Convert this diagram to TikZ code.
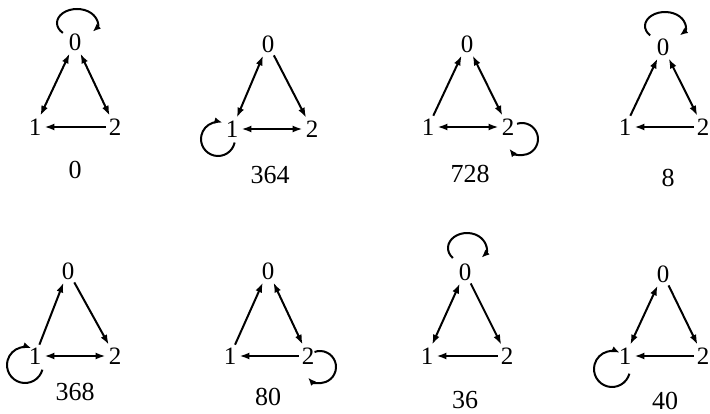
\documentclass[tikz,border=0pt]{standalone}
\usepackage{fontspec}
\setmainfont{Liberation Serif}
\usetikzlibrary{arrows.meta}
\begin{document}
\begin{tikzpicture}[x=1pt,y=1pt,
  vtx/.style={inner sep=1pt,font=\fontsize{25}{28}\selectfont},
  lbl/.style={inner sep=0pt,font=\fontsize{26}{29}\selectfont},
  ed/.style={line width=2pt,shorten >=2pt,shorten <=2pt},
  one/.style={ed,-{Latex[length=10pt,width=7pt]}},
  two/.style={ed,{Latex[length=10pt,width=7pt]}-{Latex[length=10pt,width=7pt]}},
  lp/.style={line width=2pt,-{Latex[length=8pt,width=6.5pt]}}]
\useasboundingbox (0,0) rectangle (710,-414);
% ---- graph 1 (0)
\node[vtx] (a0) at (75,-42) {0};
\node[vtx] (a1) at (35,-127) {1};
\node[vtx] (a2) at (115,-127) {2};
\node[lbl] (la) at (75,-170) {0};
\draw[two] (a0) -- (a1);
\draw[two] (a0) -- (a2);
\draw[one] (a2) -- (a1);
\draw[lp] (a0.center) ++(2,19) ++(225:20 and 14) arc[start angle=225,end angle=-38,x radius=20,y radius=14];
% ---- graph 2 (364)
\node[vtx] (b0) at (268,-44) {0};
\node[vtx] (b1) at (232,-129) {1};
\node[vtx] (b2) at (312,-129) {2};
\node[lbl] (lb) at (270,-175) {364};
\draw[two] (b0) -- (b1);
\draw[one] (b0) -- (b2);
\draw[two] (b1) -- (b2);
\draw[lp] (b1.center) ++(-14,-10) ++(-12:17) arc[start angle=-12,end angle=-285,radius=17];
% ---- graph 3 (728)
\node[vtx] (c0) at (467,-44) {0};
\node[vtx] (c1) at (428,-127) {1};
\node[vtx] (c2) at (508,-127) {2};
\node[lbl] (lc) at (470,-174) {728};
\draw[one] (c1) -- (c0);
\draw[two] (c0) -- (c2);
\draw[two] (c1) -- (c2);
\draw[lp] (c2.center) ++(14,-12) ++(108:16) arc[start angle=108,end angle=-142,radius=16];
% ---- graph 4 (8)
\node[vtx] (d0) at (663,-47) {0};
\node[vtx] (d1) at (625,-127) {1};
\node[vtx] (d2) at (703,-127) {2};
\node[lbl] (ld) at (668,-178) {8};
\draw[one] (d1) -- (d0);
\draw[two] (d0) -- (d2);
\draw[one] (d2) -- (d1);
\draw[lp] (d0.center) ++(2,21) ++(222:20 and 14) arc[start angle=222,end angle=-42,x radius=20,y radius=14];
% ---- graph 5 (368)
\node[vtx] (e0) at (68,-271) {0};
\node[vtx] (e1) at (35,-356) {1};
\node[vtx] (e2) at (115,-356) {2};
\node[lbl] (le) at (75,-392) {368};
\draw[one] (e1) -- (e0);
\draw[one] (e0) -- (e2);
\draw[two] (e1) -- (e2);
\draw[lp] (e1.center) ++(-10,-9) ++(-15:18) arc[start angle=-15,end angle=-290,radius=18];
% ---- graph 6 (80)
\node[vtx] (f0) at (268,-271) {0};
\node[vtx] (f1) at (230,-356) {1};
\node[vtx] (f2) at (308,-356) {2};
\node[lbl] (lf) at (268,-397) {80};
\draw[one] (f1) -- (f0);
\draw[two] (f0) -- (f2);
\draw[one] (f2) -- (f1);
\draw[lp] (f2.center) ++(12,-11) ++(110:16) arc[start angle=110,end angle=-138,radius=16];
% ---- graph 7 (36)
\node[vtx] (g0) at (465,-272) {0};
\node[vtx] (g1) at (427,-356) {1};
\node[vtx] (g2) at (507,-356) {2};
\node[lbl] (lg) at (465,-400) {36};
\draw[two] (g0) -- (g1);
\draw[one] (g0) -- (g2);
\draw[one] (g2) -- (g1);
\draw[lp] (g0.center) ++(2,24) ++(222:19 and 15) arc[start angle=222,end angle=-40,x radius=19,y radius=15];
% ---- graph 8 (40)
\node[vtx] (h0) at (663,-274) {0};
\node[vtx] (h1) at (625,-356) {1};
\node[vtx] (h2) at (703,-356) {2};
\node[lbl] (lh) at (665,-401) {40};
\draw[two] (h0) -- (h1);
\draw[one] (h0) -- (h2);
\draw[one] (h2) -- (h1);
\draw[lp] (h1.center) ++(-13,-13) ++(-15:18) arc[start angle=-15,end angle=-295,radius=18];
\end{tikzpicture}
\end{document}
